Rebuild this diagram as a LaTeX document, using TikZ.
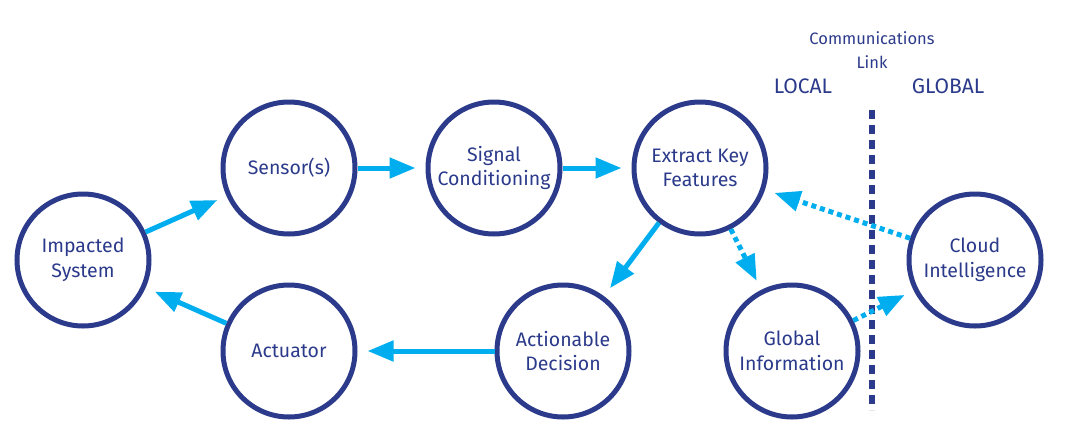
\documentclass[tikz,border=0pt]{standalone}
\usepackage{fontspec}
\setmainfont{Fira Sans}
\usetikzlibrary{arrows.meta}
\definecolor{navy}{HTML}{2B3A8A}
\definecolor{cyanarr}{HTML}{00AEEF}
\begin{document}
\begin{tikzpicture}[x=1pt,y=-1pt,
  stage/.style={circle, draw=navy, line width=5pt, minimum size=132pt, inner sep=0pt,
     text=navy, align=center, font=\fontsize{19.5}{24.5}\selectfont},
  flow/.style={draw=cyanarr, line width=5pt, -{Triangle[length=26pt,width=20pt,fill=cyanarr]}, shorten >=10pt},
  dotflow/.style={flow, dash pattern=on 5pt off 4pt},
  lbl/.style={text=navy, inner sep=0pt}]
\useasboundingbox (0,0) rectangle (1080,429);
\node[stage] (imp) at (83,260) {Impacted\\System};
\node[stage] (sen) at (289,168) {Sensor(s)};
\node[stage] (sig) at (494,168) {Signal\\Conditioning};
\node[stage] (ext) at (700,168) {Extract Key\\Features};
\node[stage] (act) at (289,351) {Actuator};
\node[stage] (dec) at (563,351) {Actionable\\Decision};
\node[stage] (glo) at (792,351) {Global\\Information};
\node[stage] (clo) at (975,260) {Cloud\\Intelligence};
\coordinate (lt) at (872,110);
\coordinate (lb) at (872,410);
\draw[navy, line width=6pt, dash pattern=on 9pt off 6pt] (lt) -- (lb);
\node[lbl, font=\fontsize{16.5}{16}\selectfont] (comm) at (872,38) {Communications};
\node[lbl, font=\fontsize{16.5}{16}\selectfont] (link) at (872,62) {Link};
\node[lbl, font=\fontsize{21}{20}\selectfont] (loc) at (803,86) {LOCAL};
\node[lbl, font=\fontsize{21}{20}\selectfont] (glb) at (948,86) {GLOBAL};
\draw[flow] (imp) -- (sen);
\draw[flow] (sen) -- (sig);
\draw[flow] (sig) -- (ext);
\draw[flow] (ext) -- (dec);
\draw[flow] (dec) -- (act);
\draw[flow] (act) -- (imp);
\draw[dotflow] (ext) -- (glo);
\draw[dotflow] (clo) -- (ext);
\draw[dotflow] (glo) -- (clo);
\end{tikzpicture}
\end{document}
